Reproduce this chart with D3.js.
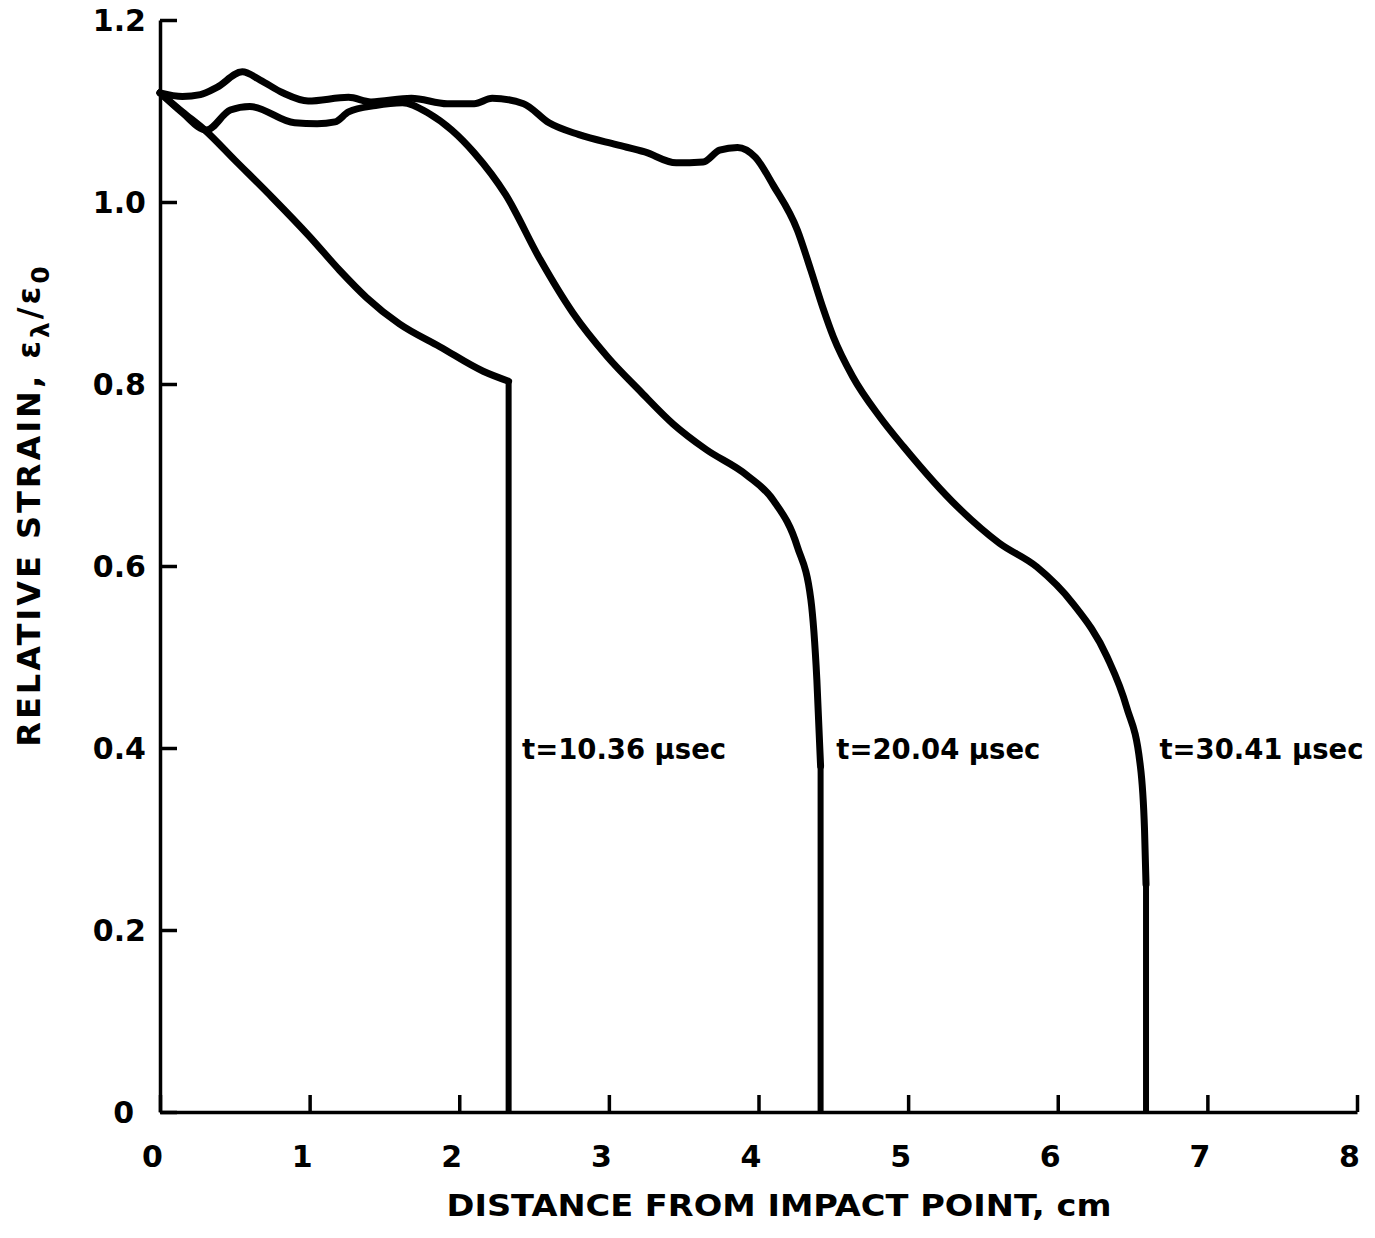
<!DOCTYPE html>
<html>
<head>
<meta charset="utf-8">
<style>
    body { margin: 0; background-color: #ffffff; }
    text { font-family: "DejaVu Sans", sans-serif; font-weight: bold; fill: #000; }
</style>
</head>
<body>
<div class="board"></div>
<script src="https://d3js.org/d3.v7.min.js"></script>
<script>
    // strain profiles (distance in cm, relative strain)
    const distA = [0, 0.15, 0.3, 0.5, 0.75, 1.0, 1.2, 1.38, 1.6, 1.87, 2.16, 2.33]
    const strainA = [1.12, 1.099, 1.079, 1.046, 1.005, 0.962, 0.925, 0.895, 0.866, 0.841, 0.814, 0.803]

    const distB = [0, 0.15, 0.31, 0.47, 0.6, 0.9, 1.05, 1.17, 1.26, 1.44, 1.62, 1.8, 1.95, 2.1, 2.31, 2.54, 2.76, 2.99, 3.21, 3.43, 3.65, 3.92, 4.1, 4.26, 4.35, 4.39, 4.415]
    const strainB = [1.12, 1.098, 1.079, 1.101, 1.105, 1.087, 1.086, 1.088, 1.099, 1.106, 1.109, 1.097, 1.079, 1.054, 1.008, 0.937, 0.878, 0.83, 0.792, 0.756, 0.728, 0.70, 0.672, 0.621, 0.563, 0.475, 0.38]

    const distC = [0, 0.15, 0.27, 0.38, 0.55, 0.67, 0.82, 0.99, 1.26, 1.41, 1.68, 1.92, 2.1, 2.22, 2.43, 2.6, 2.8, 3.05, 3.24, 3.45, 3.63, 3.74, 3.86, 3.98, 4.1, 4.26, 4.35, 4.43, 4.5, 4.63, 4.81, 4.97, 5.33, 5.61, 5.86, 6.1, 6.33, 6.46, 6.55, 6.58, 6.59]
    const strainC = [1.12, 1.116, 1.118, 1.126, 1.143, 1.134, 1.12, 1.111, 1.115, 1.11, 1.114, 1.108, 1.108, 1.114, 1.108, 1.087, 1.074, 1.063, 1.055, 1.043, 1.044, 1.057, 1.06, 1.049, 1.018, 0.969, 0.925, 0.884, 0.852, 0.808, 0.764, 0.731, 0.665, 0.625, 0.599, 0.559, 0.50, 0.445, 0.383, 0.31, 0.25]

    // front position where each profile drops to zero
    const frontX = [2.33, 4.415, 6.59]
    const labelX = [2.42, 4.52, 6.68]
    const timeLabels = ["t=10.36 \u03bcsec", "t=20.04 \u03bcsec", "t=30.41 \u03bcsec"]

    const xTicks = [0, 1, 2, 3, 4, 5, 6, 7, 8]
    const yTicks = [0, 0.2, 0.4, 0.6, 0.8, 1.0, 1.2]

    const width = 1375, height = 1238

    const svg = d3.select(".board")
        .append("svg")
        .attr("width", width)
        .attr("height", height)

    const x = d3.scaleLinear().domain([0, 8]).range([160, 1357])
    const y = d3.scaleLinear().domain([0, 1.2]).range([1112, 20])

    // axes
    const xAxis = d3.axisBottom(x)
        .tickValues(xTicks)
        .tickSizeInner(-17)
        .tickSizeOuter(0)
        .tickPadding(34)
        .tickFormat(d3.format("d"))

    const yAxis = d3.axisLeft(y)
        .tickValues(yTicks)
        .tickSizeInner(-17)
        .tickSizeOuter(0)
        .tickPadding(14)
        .tickFormat(d => d === 0 ? "0" : d3.format(".1f")(d))

    const gx = svg.append("g")
        .attr("transform", "translate(0," + y(0) + ")")
        .call(xAxis)
    const gy = svg.append("g")
        .attr("transform", "translate(" + x(0) + ",0)")
        .call(yAxis)

    for (const g of [gx, gy]) {
        g.select(".domain").attr("stroke", "#000").attr("stroke-width", 3.5)
        g.selectAll(".tick line").attr("stroke", "#000").attr("stroke-width", 3.5)
        g.selectAll(".tick text")
            .style("font-family", "'DejaVu Sans', sans-serif")
            .style("font-weight", "bold")
            .style("font-size", "30px")
            .attr("fill", "#000")
    }
    gx.selectAll(".tick text").attr("dx", "-8")
    gy.selectAll(".tick text").attr("dy", "0.36em")
    gy.selectAll(".tick").filter(d => d === 0).select("text").attr("dx", "-12")

    // axis titles
    svg.append("text")
        .attr("x", 779)
        .attr("y", 1216)
        .attr("text-anchor", "middle")
        .attr("textLength", 665)
        .attr("lengthAdjust", "spacingAndGlyphs")
        .style("font-size", "31px")
        .text("DISTANCE  FROM  IMPACT  POINT,  cm")

    const ytitle = svg.append("text")
        .attr("transform", "translate(40,505) rotate(-90)")
        .attr("text-anchor", "middle")
        .style("font-size", "32px")
        .style("letter-spacing", "3px")
    ytitle.append("tspan").text("RELATIVE  STRAIN,  \u03b5")
    ytitle.append("tspan").attr("dy", 9).style("font-size", "25px").text("\u03bb")
    ytitle.append("tspan").attr("dy", -9).text("/\u03b5")
    ytitle.append("tspan").attr("dy", 9).style("font-size", "25px").text("0")

    // curves
    const line = d3.line()
        .x(d => x(d[0]))
        .y(d => y(d[1]))
        .curve(d3.curveMonotoneX)

    const series = [
        d3.zip(distA, strainA),
        d3.zip(distB, strainB),
        d3.zip(distC, strainC)
    ]

    series.forEach((pts, i) => {
        svg.append("path")
            .datum(pts)
            .attr("fill", "none")
            .attr("stroke", "#000")
            .attr("stroke-width", 7)
            .attr("stroke-linejoin", "round")
            .attr("stroke-linecap", "round")
            .attr("d", line)

        const last = pts[pts.length - 1]
        svg.append("line")
            .attr("x1", x(last[0]))
            .attr("y1", y(last[1]))
            .attr("x2", x(frontX[i]))
            .attr("y2", y(0))
            .attr("stroke", "#000")
            .attr("stroke-width", 6)
            .attr("stroke-linecap", "butt")

        svg.append("text")
            .attr("x", x(labelX[i]))
            .attr("y", y(0.388))
            .attr("textLength", 204)
            .attr("lengthAdjust", "spacingAndGlyphs")
            .style("font-size", "29px")
            .text(timeLabels[i])
    })
</script>
</body>
</html>
